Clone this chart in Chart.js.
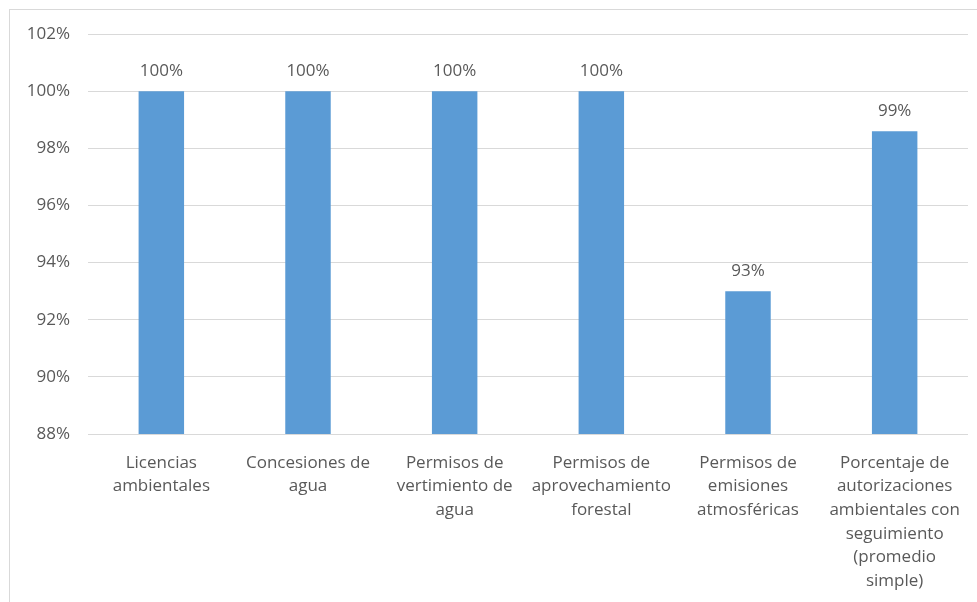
<!DOCTYPE html>
<html>
<head>
<meta charset="utf-8">
<script src="https://cdn.jsdelivr.net/npm/chart.js@4"></script>
<style>
  html, body { margin: 0; padding: 0; background: #fff; }
  #frame {
    position: absolute; left: 9px; top: 9px; width: 980px; height: 600px;
    border-left: 1px solid #d9d9d9; border-top: 1px solid #d9d9d9;
  }
  #wrap { position: absolute; left: 0; top: 0; width: 977px; height: 602px; }
</style>
</head>
<body>
<div id="frame"></div>
<div id="wrap"><canvas id="chart" width="977" height="602"></canvas></div>
<script>
const categories = [
    ['Licencias', 'ambientales'],
    ['Concesiones de', 'agua'],
    ['Permisos de', 'vertimiento de', 'agua'],
    ['Permisos de', 'aprovechamiento', 'forestal'],
    ['Permisos de', 'emisiones', 'atmosféricas'],
    ['Porcentaje de', 'autorizaciones', 'ambientales con', 'seguimiento', '(promedio', 'simple)']
];
const percentages = [100, 100, 100, 100, 93, 98.6];
const yMin = 88;
const yMax = 102;
const yStep = 2;

// draws the value above each bar
const valueLabels = {
    id: 'valueLabels',
    afterDatasetsDraw(chart) {
        const c = chart.ctx;
        const meta = chart.getDatasetMeta(0);
        c.save();
        c.font = '17px "Open Sans", sans-serif';
        c.fillStyle = '#595959';
        c.textAlign = 'center';
        c.textBaseline = 'middle';
        meta.data.forEach((bar, i) => {
            c.fillText(Math.round(percentages[i]) + '%', bar.x, bar.y - 20);
        });
        c.restore();
    }
};

const ctx = document.getElementById('chart').getContext('2d');
new Chart(ctx, {
    type: 'bar',
    data: {
        labels: categories,
        datasets: [{
            data: percentages,
            backgroundColor: '#5B9BD5',
            borderWidth: 0,
            categoryPercentage: 0.31,
            barPercentage: 1
        }]
    },
    options: {
        responsive: false,
        animation: false,
        layout: { padding: { left: 0, right: 9, top: 34, bottom: 0 } },
        plugins: { legend: { display: false }, tooltip: { enabled: false } },
        scales: {
            x: {
                grid: { display: false },
                border: { display: false },
                ticks: {
                    color: '#595959',
                    font: { family: 'Open Sans', size: 17, lineHeight: 1.39 },
                    maxRotation: 0,
                    autoSkip: false,
                    padding: 9
                },
                afterFit(scale) { scale.height = 168; }
            },
            y: {
                min: yMin,
                max: yMax,
                grid: { color: '#d9d9d9', lineWidth: 1, drawTicks: false },
                border: { display: false },
                ticks: {
                    stepSize: yStep,
                    color: '#595959',
                    font: { family: 'Open Sans', size: 17 },
                    padding: 18,
                    callback: v => v + '%'
                },
                afterFit(scale) { scale.width = 88; }
            }
        }
    },
    plugins: [valueLabels]
});
</script>
</body>
</html>
